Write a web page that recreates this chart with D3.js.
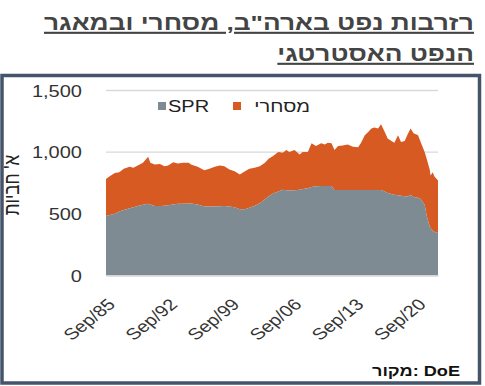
<!DOCTYPE html>
<html><head><meta charset="utf-8">
<script src="https://cdn.jsdelivr.net/npm/d3@7"></script>
<style>
html,body{margin:0;padding:0;background:#fff;}
svg{display:block;}
</style></head>
<body>
<svg id="chart" width="485" height="386"></svg>
<script>
// ---- Data (thousand barrels) ----
const dates = ["1985-09","1986-02","1986-09","1987-03","1987-09","1988-05","1988-10","1989-04","1989-11","1990-06",
"1990-09","1991-03","1991-10","1992-04","1992-09","1993-04","1993-10","1994-05","1995-01","1995-04",
"1996-01","1996-10","1997-05","1997-12","1998-07","1999-01","1999-08","2000-03","2000-10","2001-05",
"2001-11","2002-06","2003-01","2003-08","2004-01","2004-07","2005-02","2005-08","2006-01","2006-05",
"2006-12","2007-07","2007-11","2008-06","2008-11","2009-05","2009-12","2010-05","2010-09","2011-02",
"2011-06","2011-11","2012-05","2012-12","2013-07","2014-02","2014-06","2014-11","2015-03","2015-08",
"2015-12","2016-05","2016-09","2017-02","2017-06","2017-11","2018-03","2018-08","2018-12","2019-05",
"2019-09","2020-01","2020-05","2020-11","2021-03","2021-08","2021-11","2022-03","2022-04","2022-07",
"2022-09","2023-02"];
const spr = [483,490,500,518,532,545,554,563,574,581,
575,563,563,566,569,576,581,582,583,583,
575,559,559,559,562,564,560,554,537,537,
550,565,586,619,642,665,681,695,692,690,
692,695,701,707,717,724,726,726,726,726,
693,693,693,693,693,693,693,693,693,693,
693,693,693,681,668,661,654,650,646,643,
640,654,636,630,619,573,477,395,385,362,
355,345];
const commercial = [300,314,332,319,333,336,319,329,340,382,
339,337,342,320,323,342,327,332,331,317,
306,294,306,322,330,322,299,291,281,308,
315,308,300,295,304,303,320,300,325,311,
325,287,300,294,355,326,346,337,351,346,
324,357,362,370,351,347,384,444,466,499,
507,499,534,483,442,430,423,487,436,448,
505,538,517,507,458,428,464,460,425,475,
449,425];
const tickDates = ["1985-09","1992-09","1999-09","2006-09","2013-09","2020-09"];
const tickLabels = ["Sep/85","Sep/92","Sep/99","Sep/06","Sep/13","Sep/20"];
const yTicks = [0,500,1000,1500];
const seriesNames = ["SPR","מסחרי"];
const colors = ["#7f8b92","#d65a21"];
const titleLines = ["רזרבות נפט בארה\"ב, מסחרי ובמאגר","הנפט האסטרטגי"];
const yTitle = "א' חביות";
const sourceText = "מקור: DoE";

const parse = d3.timeParse("%Y-%m");
const rows = dates.map((d,i)=>({date:parse(d), spr:spr[i], com:commercial[i]}));

const svg = d3.select("#chart");
const SX = 1.25; // horizontal stretch of the reference
const FONT = "'Liberation Sans', Arial, sans-serif";

// frame
svg.append("rect").attr("x",2).attr("y",75.5).attr("width",477.5).attr("height",307.5)
  .attr("fill","#fff").attr("stroke","#44546a").attr("stroke-width",3.5);

// title
titleLines.forEach((t,i)=>{
  svg.append("text").text(t)
    .attr("transform",`translate(474,${30+i*31}) scale(${SX},1)`)
    .attr("text-anchor","end").attr("font-family",FONT).attr("font-weight","bold")
    .attr("font-size",21).attr("fill","#444").attr("text-decoration","underline");
});

const x = d3.scaleTime().domain([parse("1985-09"), parse("2023-02")]).range([106,438]);
const y = d3.scaleLinear().domain([0,1500]).range([275.5,90.5]);

// gridlines
svg.append("g").selectAll("line").data(yTicks.filter(v=>v>0)).join("line")
  .attr("x1",106).attr("x2",438).attr("y1",d=>y(d)).attr("y2",d=>y(d))
  .attr("stroke","#d9d9d9").attr("stroke-width",1.3);

// areas
const areaSpr = d3.area().x(d=>x(d.date)).y0(y(0)).y1(d=>y(d.spr));
const areaCom = d3.area().x(d=>x(d.date)).y0(d=>y(d.spr)).y1(d=>y(d.spr+d.com));
svg.append("path").datum(rows).attr("d",areaCom).attr("fill",colors[1]);
svg.append("path").datum(rows).attr("d",areaSpr).attr("fill",colors[0]);

// x axis
const xAxis = d3.axisBottom(x).tickValues(tickDates.map(parse))
  .tickFormat((d,i)=>tickLabels[i]).tickSize(0);
const gx = svg.append("g").attr("transform",`translate(0,${y(0)})`).call(xAxis);
gx.select(".domain").attr("stroke","#d9d9d9").attr("stroke-width",1.3);
gx.selectAll("text").attr("x",null).attr("y",null).attr("dy","0.35em")
  .attr("transform",`translate(5,26) scale(${SX},1) rotate(-45)`)
  .attr("text-anchor","end").attr("font-family",FONT).attr("font-size",16).attr("fill","#333");

// y axis
const yAxis = d3.axisLeft(y).tickValues(yTicks).tickFormat(d3.format(",")).tickSize(0);
const gy = svg.append("g").attr("transform","translate(82,0)").call(yAxis);
gy.select(".domain").remove();
gy.selectAll("text").attr("x",null).attr("dy","0.35em")
  .attr("transform",`scale(${SX},1)`)
  .attr("text-anchor","end").attr("font-family",FONT).attr("font-size",16).attr("fill","#333");

// y title
svg.append("text").text(yTitle)
  .attr("transform",`translate(19,185) scale(${SX},1) rotate(-90)`)
  .attr("text-anchor","middle").attr("font-family",FONT).attr("font-size",17).attr("fill","#222");

// legend
const leg = [{sx:158, tx:168, anchor:"start"},{sx:233, tx:310, anchor:"end"}];
leg.forEach((l,i)=>{
  svg.append("rect").attr("x",l.sx).attr("y",102).attr("width",8).attr("height",8).attr("fill",colors[i]);
  svg.append("text").text(seriesNames[i])
    .attr("transform",`translate(${l.tx},112) scale(${SX},1)`)
    .attr("text-anchor",l.anchor).attr("font-family",FONT).attr("font-size",16).attr("fill","#222");
});

// source
svg.append("text").text(sourceText)
  .attr("transform",`translate(460,376) scale(${SX},1)`)
  .attr("text-anchor","end").attr("font-family",FONT).attr("font-weight","bold")
  .attr("font-size",14.5).attr("fill","#111");
</script>
</body></html>
